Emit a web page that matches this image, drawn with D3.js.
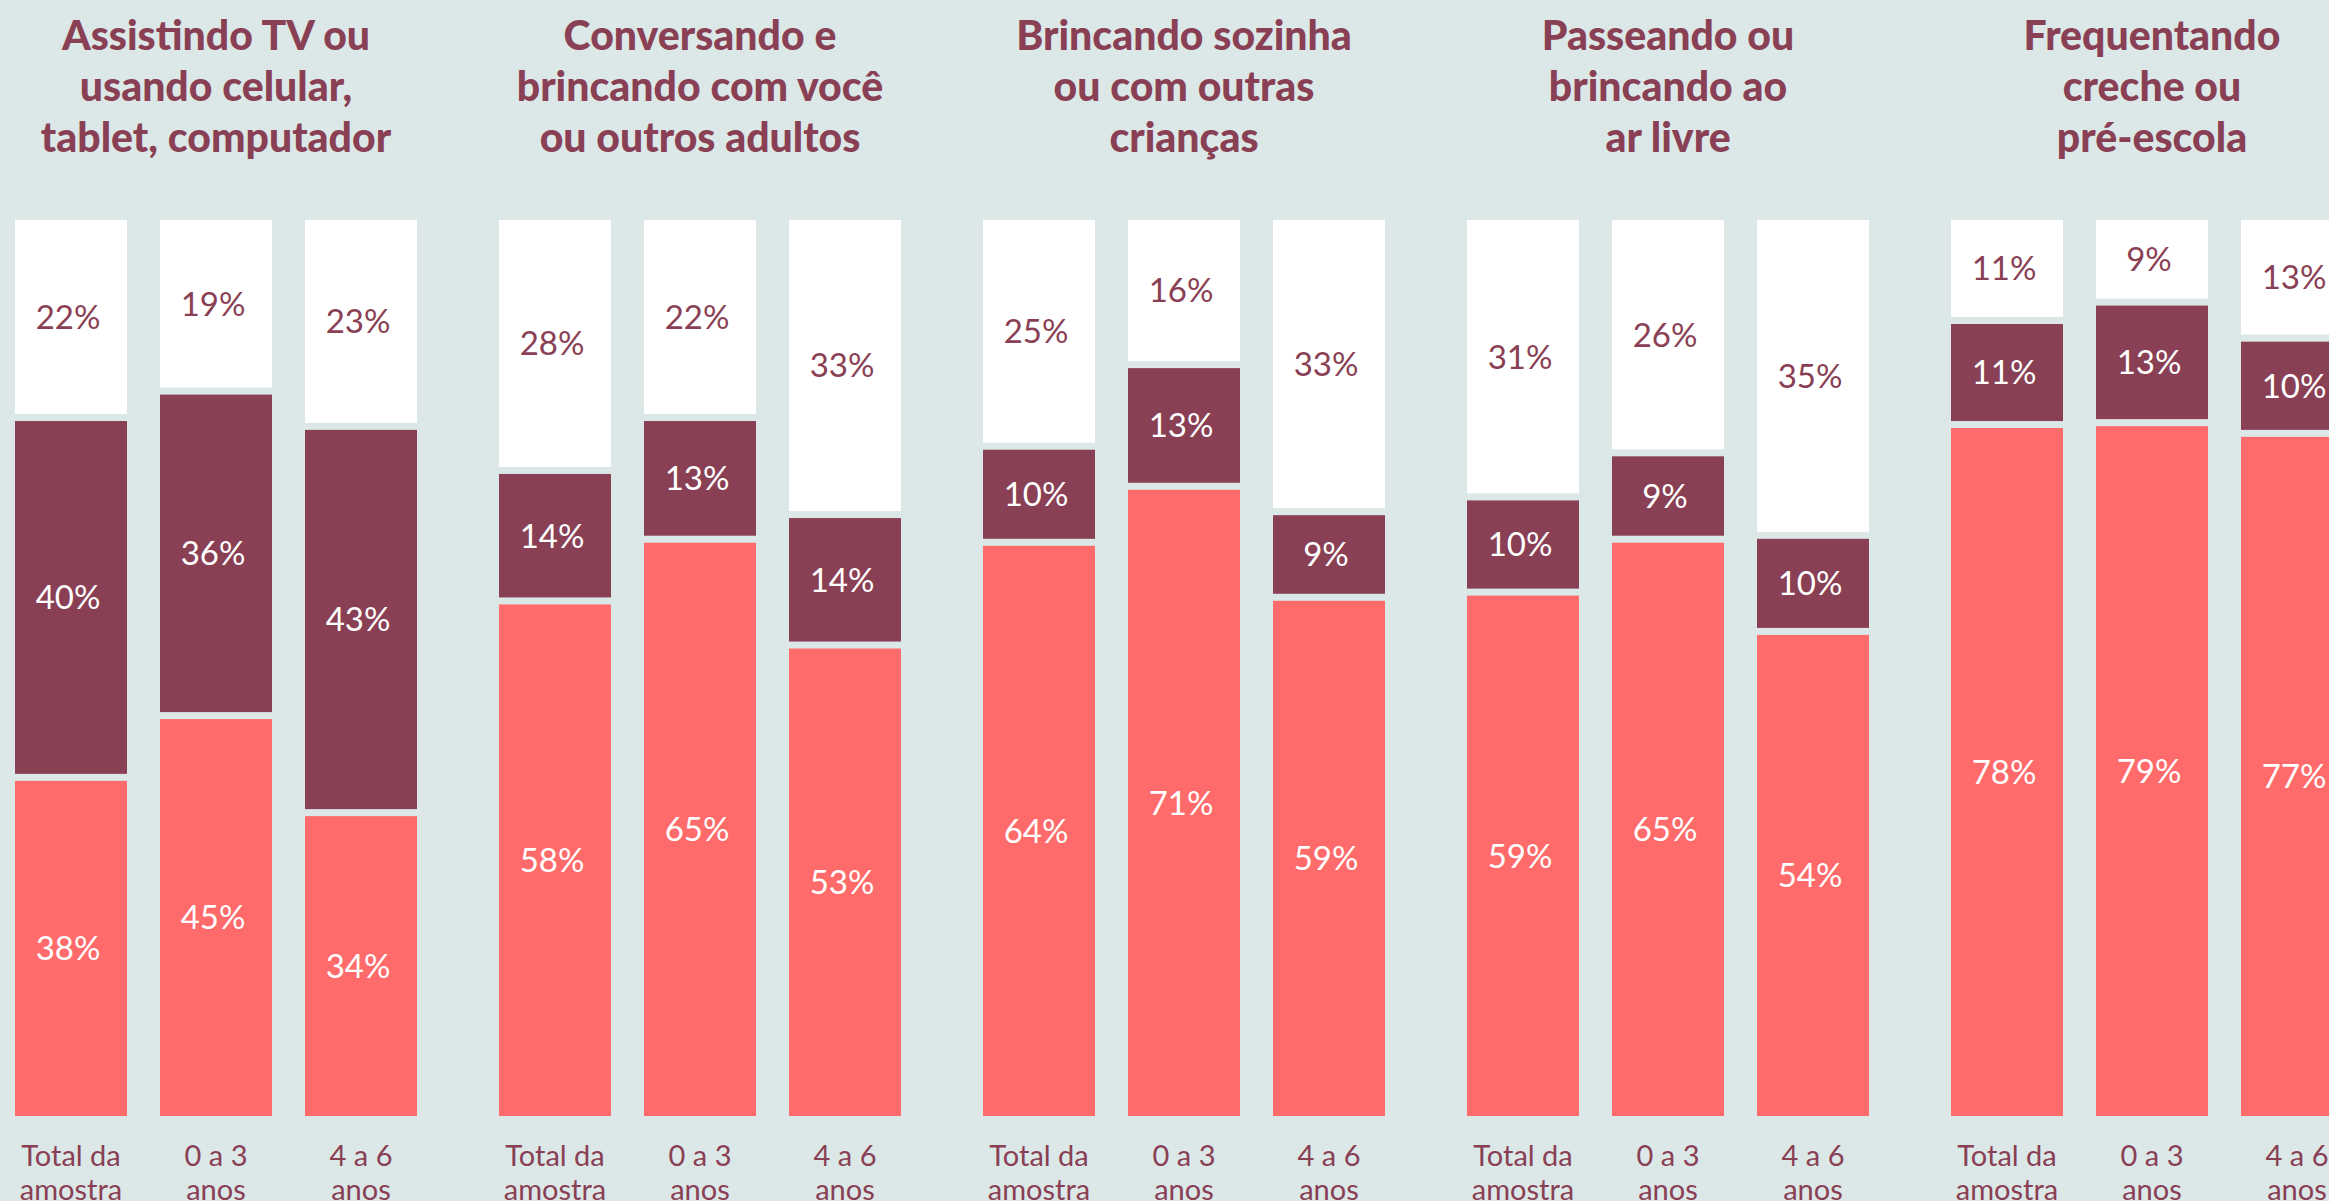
<!DOCTYPE html>
<html>
<head>
<meta charset="utf-8">
<script src="https://cdn.jsdelivr.net/npm/d3@7"></script>
<style>
  body { margin: 0; background: #dbe8e7; }
  svg { display: block; }
</style>
</head>
<body>
<div id="chart"></div>
<script>
const width = 2329;
const height = 1201;

// data
const titles = [
  ["Assistindo TV ou", "usando celular,", "tablet, computador"],
  ["Conversando e", "brincando com você", "ou outros adultos"],
  ["Brincando sozinha", "ou com outras", "crianças"],
  ["Passeando ou", "brincando ao", "ar livre"],
  ["Frequentando", "creche ou", "pré-escola"]
];
const groups = [["Total da", "amostra"], ["0 a 3", "anos"], ["4 a 6", "anos"]];

// per panel, per group (bottom to top)
const salmonVals = [[38, 45, 34], [58, 65, 53], [64, 71, 59], [59, 65, 54], [78, 79, 77]];
const darkVals   = [[40, 36, 43], [14, 13, 14], [10, 13, 9],  [10, 9, 10],  [11, 13, 10]];
const whiteVals  = [[22, 19, 23], [28, 22, 33], [25, 16, 33], [31, 26, 35], [11, 9, 13]];

const colors = ["#ff6b6a", "#8a4054", "#ffffff"];
const labelColors = ["#ffffff", "#ffffff", "#8a4054"];
const titleColor = "#8a4054";

const barTop = 220, barBottom = 1116, gap = 7;

const svg = d3.select("#chart")
    .append("svg")
    .attr("width", width)
    .attr("height", height);

const panelIds = titles.map((t, i) => i);
const x0 = d3.scaleBand()
    .domain(panelIds)
    .range([15, 2353])
    .paddingInner(82 / 484)
    .paddingOuter(0);

const x1 = d3.scaleBand()
    .domain([0, 1, 2])
    .range([0, x0.bandwidth()])
    .paddingInner(33 / 145)
    .paddingOuter(0);

// height of a share (percent of the bar total)
const hScale = d3.scaleLinear()
    .domain([0, 100])
    .range([0, barBottom - barTop - 2 * gap]);

panelIds.forEach(p => {
    const g = svg.append("g")
        .attr("transform", "translate(" + x0(p) + ",0)");
    const cx = x0.bandwidth() / 2;

    // title
    g.append("text")
        .attr("text-anchor", "middle")
        .attr("font-family", "Lato")
        .attr("font-weight", 900)
        .attr("font-size", "41px")
        .attr("fill", titleColor)
        .selectAll("tspan")
        .data(titles[p])
        .enter()
        .append("tspan")
            .attr("x", cx)
            .attr("y", (d, i) => 50 + i * 51)
            .text(d => d);

    groups.forEach((grp, gi) => {
        const vals = [salmonVals[p][gi], darkVals[p][gi], whiteVals[p][gi]];
        const total = d3.sum(vals);
        let y = barBottom;
        const segs = vals.map((v, si) => {
            const h = hScale(v / total * 100);
            const s = {v: v, si: si, y: y - h, h: h};
            y = y - h - gap;
            return s;
        });
        const bx = x1(gi);
        const bars = g.append("g").attr("class", "bar");
        bars.selectAll("rect")
            .data(segs)
            .enter()
            .append("rect")
                .attr("x", bx)
                .attr("y", d => d.y)
                .attr("width", x1.bandwidth())
                .attr("height", d => d.h)
                .attr("fill", d => colors[d.si]);
        bars.selectAll("text")
            .data(segs)
            .enter()
            .append("text")
                .attr("x", bx + x1.bandwidth() / 2 - 3)
                .attr("y", d => d.y + d.h / 2)
                .attr("dy", "0.36em")
                .attr("text-anchor", "middle")
                .attr("font-family", "Lato")
                .attr("font-size", "33px")
                .attr("fill", d => labelColors[d.si])
                .text(d => d.v + "%");

        // category label
        g.append("text")
            .attr("text-anchor", "middle")
            .attr("font-family", "Lato")
            .attr("font-size", "29px")
            .attr("fill", titleColor)
            .selectAll("tspan")
            .data(grp)
            .enter()
            .append("tspan")
                .attr("x", bx + x1.bandwidth() / 2)
                .attr("y", (d, i) => 1166 + i * 34)
                .text(d => d);
    });
});
</script>
</body>
</html>
